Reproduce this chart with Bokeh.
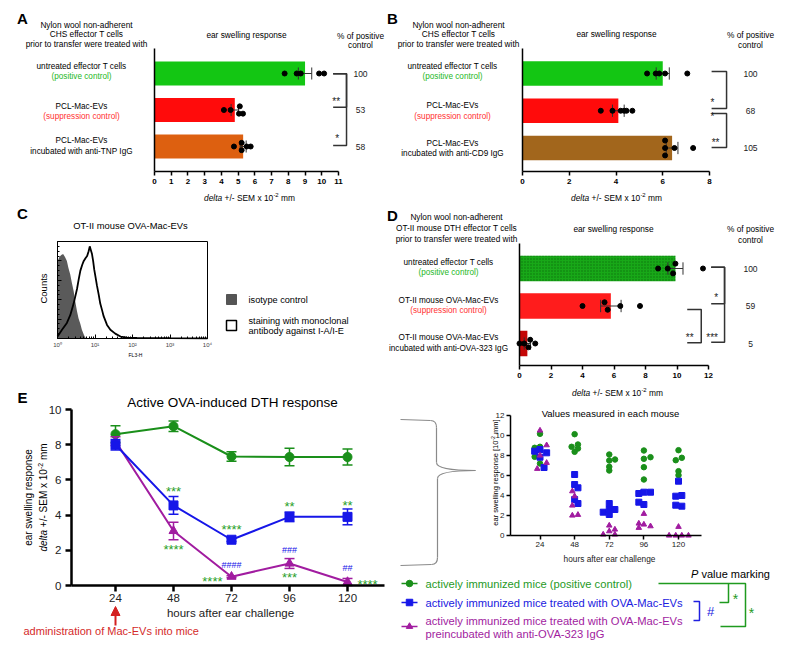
import math
from bokeh.plotting import figure
from bokeh.layouts import row, column
from bokeh.models import Range1d, FixedTicker, Label, Arrow, NormalHead, ColumnDataSource
from bokeh.core.properties import value
from bokeh.embed import file_html
from bokeh.resources import INLINE

FONT = "Liberation Sans"

# ======================= DATA =======================
# Panel A
a_header = ["Nylon wool non-adherent", "CHS effector T cells", "prior to transfer were treated with"]
a_labels = [("untreated effector T cells", "(positive control)"),
            ("PCL-Mac-EVs", "(suppression control)"),
            ("PCL-Mac-EVs", "incubated with anti-TNP IgG")]
a_means = [9.0, 4.8, 5.3]
a_sem = [0.4, 0.22, 0.18]
a_points = [[7.78, 8.5, 8.74, 9.84, 10.14], [4.15, 4.55, 5.1, 5.05, 5.29], [4.75, 5.21, 5.21, 5.51, 5.75]]
a_points_dy = [[0, 0, 0, 0, 0], [0, 0, 0.1, -0.1, -0.1], [0, 0.1, -0.1, 0, 0]]
a_percent = ["100", "53", "58"]
a_ticks = [0, 1, 2, 3, 4, 5, 6, 7, 8, 9, 10, 11]

# Panel B
b_header = ["Nylon wool non-adherent", "CHS effector T cells", "prior to transfer were treated with"]
b_labels = [("untreated effector T cells", "(positive control)"),
            ("PCL-Mac-EVs", "(suppression control)"),
            ("PCL-Mac-EVs", "incubated with anti-CD9 IgG")]
b_means = [6.0, 4.1, 6.4]
b_sem = [0.28, 0.25, 0.25]
b_points = [[5.33, 5.7, 5.85, 6.1, 7.05], [3.35, 3.85, 4.2, 4.35, 4.45, 4.7], [6.1, 6.1, 6.1, 6.5, 7.3]]
b_points_dy = [[0, 0, 0, 0, 0], [0, 0, 0, 0, 0, 0], [0.2, 0, -0.2, 0, 0]]
b_percent = ["100", "68", "105"]
b_ticks = [0, 2, 4, 6, 8]

# Panel C (flow cytometry histogram, x in decades of FL3-H)
c_iso_dec = [0.0, 0.005, 0.05, 0.10, 0.15, 0.20, 0.25, 0.29, 0.34, 0.38, 0.43, 0.47, 0.52, 0.56, 0.61, 0.65, 0.70, 0.74, 0.79, 4.0]
c_iso_cnt = [0.0, 0.80, 0.84, 0.86, 0.87, 0.84, 0.80, 0.73, 0.66, 0.58, 0.49, 0.39, 0.28, 0.21, 0.15, 0.09, 0.04, 0.01, 0.0, 0.0]
c_stain_dec = [0.0, 0.05, 0.12, 0.25, 0.34, 0.43, 0.52, 0.57, 0.61, 0.66, 0.70, 0.75, 0.79, 0.83, 0.86, 0.89, 0.92, 0.95,
               0.98, 1.02, 1.05, 1.10, 1.14, 1.19, 1.23, 1.32, 1.41, 1.54, 1.68, 1.86, 2.12, 3.0, 4.0]
c_stain_cnt = [0.02, 0.05, 0.09, 0.16, 0.24, 0.36, 0.51, 0.62, 0.70, 0.76, 0.80, 0.83, 0.85, 0.90, 0.95, 0.91, 0.87, 0.80,
               0.71, 0.62, 0.55, 0.45, 0.36, 0.29, 0.23, 0.14, 0.09, 0.05, 0.02, 0.01, 0.005, 0.003, 0.002]
c_ticks = [1, 10, 100, 1000, 10000]
c_tick_labels = ["10\u2070", "10\u00b9", "10\u00b2", "10\u00b3", "10\u2074"]

# Panel D
d_header = ["Nylon wool non-adherent", "OT-II mouse DTH effector T cells", "prior to transfer were treated with"]
d_labels = [("untreated effector T cells", "(positive control)"),
            ("OT-II mouse OVA-Mac-EVs", "(suppression control)"),
            ("OT-II mouse OVA-Mac-EVs", "incubated with anti-OVA-323 IgG")]
d_means = [9.9, 5.8, 0.5]
d_sem = [0.48, 0.65, 0.2]
d_points = [[8.8, 9.41, 9.9, 9.75, 11.65], [4.0, 5.4, 5.6, 6.4, 7.65], [0.0, 0.3, 0.57, 0.68, 1.0]]
d_points_dy = [[0, 0, 0.13, -0.13, 0], [0, 0.1, -0.1, 0, 0], [0, 0, -0.1, 0.1, 0]]
d_percent = ["100", "59", "5"]
d_ticks = [0, 2, 4, 6, 8, 10, 12]

# Panel E (means +/- SEM)
e_hours = [24, 48, 72, 96, 120]
e_green = [8.6, 9.05, 7.33, 7.3, 7.3]
e_green_sem = [0.47, 0.3, 0.27, 0.5, 0.45]
e_blue = [8.0, 4.55, 2.6, 3.9, 3.9]
e_blue_sem = [0.3, 0.5, 0.1, 0.27, 0.45]
e_purple = [8.2, 3.1, 0.5, 1.25, 0.2]
e_purple_sem = [0.25, 0.5, 0.06, 0.28, 0.2]
e_yticks = [0, 2, 4, 6, 8, 10]

# Panel E inset: values measured in each mouse (x = hour position of each dot)
m_green_x = [[20.3, 24, 24, 20.3, 24], [48, 45.9, 50.3, 50.3, 48], [72, 72, 76, 72, 72], [96, 96, 100.6, 96, 96], [120, 118.1, 122.3, 120, 120]]
m_green_y = [[8.77, 8.87, 10.17, 7.87, 7.2], [10.13, 8.87, 9.1, 8.7, 8.37], [8.1, 7.5, 7.6, 6.87, 6.5], [8.5, 7.67, 7.83, 6.83, 5.6], [8.53, 7.53, 7.77, 6.43, 6.03]]
m_blue_x = [[20.3, 24, 28.6, 24, 26.8], [48, 48, 50.3, 48, 50.3], [72, 67.8, 72, 75.9, 72], [92.5, 96, 100.6, 92.5, 96], [120, 118.1, 122.3, 118.1, 122.3]]
m_blue_y = [[8.43, 8.6, 8.27, 7.83, 6.8], [6.1, 5.1, 4.77, 3.6, 3.2], [3.2, 2.33, 2.6, 2.6, 2.1], [4.2, 4.33, 4.33, 3.33, 3.1], [5.43, 3.93, 4.0, 3.03, 2.93]]
m_purple_x = [[24, 24, 28.6, 28.6, 22.1], [46.4, 48, 46.4, 46.4, 50.3], [72, 75.9, 72, 67.8, 75.9], [96, 92.5, 96, 100.6, 92.5], [120, 113.5, 118.1, 122.3, 126.9]]
m_purple_y = [[10.5, 8.0, 9.03, 7.27, 6.67], [4.43, 3.93, 3.0, 2.0, 2.07], [1.0, 0.6, 0.43, 0.1, 0.1], [2.17, 1.2, 1.1, 0.93, 0.77], [0.87, 0.0, 0.0, 0.0, 0.0]]
m_yticks = [0, 2, 4, 6, 8, 10, 12]

legend_texts = ["actively immunized mice (positive control)",
                "actively immunized mice treated with OVA-Mac-EVs",
                "actively immunized mice treated with OVA-Mac-EVs",
                "preincubated with anti-OVA-323 IgG"]

# ======================= STYLE / HELPERS =======================
GREEN = "#1a8f1a"
BLUE = "#1616e8"
PURPLE = "#a11ca0"
STAR_GREEN = "#2a9f2a"
LAB_GREEN = "#25b825"
LAB_RED = "#ff3030"

AW = {' ': 278, '!': 278, '"': 355, '#': 556, '%': 889, '&': 667, "'": 191, '(': 333, ')': 333, '*': 389,
      '+': 584, ',': 278, '-': 333, '.': 278, '/': 278, ':': 278, '[': 278, ']': 278}
for ch in "0123456789":
    AW[ch] = 556
AW.update(dict(A=667, B=667, C=722, D=722, E=667, F=611, G=778, H=722, I=278, J=500, K=667, L=556, M=833,
               N=722, O=778, P=667, Q=778, R=722, S=667, T=611, U=722, V=667, W=944, X=667, Y=667, Z=611))
AW.update(dict(a=556, b=556, c=500, d=556, e=556, f=278, g=556, h=556, i=222, j=222, k=500, l=222, m=833,
               n=556, o=556, p=556, q=556, r=333, s=500, t=278, u=556, v=500, w=722, x=500, y=500, z=500))


def tw(s, size):
    return sum(AW.get(ch, 556) for ch in s) / 1000.0 * size


class Geo:
    """Figure occupying page box (x0,y0,w,h); its frame is the whole figure.
    x: data value vx sits at page px with scale sx (px per unit); same for y (page y grows downward)."""
    def __init__(self, x0, y0, w, h, px, vx, sx, py, vy, sy, xlog=False):
        self.x0, self.y0, self.w, self.h = x0, y0, w, h
        self.px, self.vx, self.sx, self.py, self.vy, self.sy = px, vx, sx, py, vy, sy
        self.xlog = xlog
        self.xr = (self.dx(x0), self.dx(x0 + w))
        self.yr = (self.dy(y0 + h), self.dy(y0))

    def dx(self, X):
        v = self.vx + (X - self.px) / self.sx
        return 10 ** v if self.xlog else v

    def dy(self, Y):
        return self.vy + (self.py - Y) / self.sy

    def d(self, X, Y):
        return self.dx(X), self.dy(Y)


def make_fig(g, x_axis_type="linear"):
    p = figure(width=g.w, height=g.h, x_range=Range1d(start=g.xr[0], end=g.xr[1]),
               y_range=Range1d(start=g.yr[0], end=g.yr[1]), x_axis_type=x_axis_type,
               output_backend="svg", toolbar_location=None, title=None, tools="",
               min_border_left=0, min_border_right=0, min_border_top=0, min_border_bottom=0)
    p.outline_line_color = None
    p.grid.visible = False
    p.background_fill_color = "white"
    p.border_fill_color = "white"
    return p


def label(p, g, X, Y, text, size, color="black", align="center", style="normal", angle=0.0):
    x, y = g.d(X, Y)
    p.add_layout(Label(x=x, y=y, text=text, text_font=FONT, text_font_size=f"{size:.1f}px",
                       text_color=color, text_align=align, text_baseline="middle",
                       text_font_style=style, angle=angle))


def pieces(p, g, X, Y, parts, size, color="black", vertical=False):
    total = sum(tw(t, size * sc) for t, st, sc, r in parts)
    pos = (X - total / 2) if not vertical else (Y + total / 2)
    for t, st, sc, r in parts:
        fs = size * sc
        lead = len(t) - len(t.lstrip(' '))
        trail = len(t) - len(t.rstrip(' '))
        core = t.strip(' ')
        if not vertical:
            pos += tw(' ' * lead, fs)
            label(p, g, pos, Y - r, core, fs, color, align="left", style=st)
            pos += tw(core, fs) + tw(' ' * trail, fs)
        else:
            pos -= tw(' ' * lead, fs)
            label(p, g, X - r, pos, core, fs, color, align="left", style=st, angle=math.pi / 2)
            pos -= tw(core, fs) + tw(' ' * trail, fs)


def page_line(p, g, Xs, Ys, **kw):
    p.line([g.dx(X) for X in Xs], [g.dy(Y) for Y in Ys], **kw)


DELTA_PARTS = [("delta", "italic", 1.0, 0), (" +/- SEM x 10", "normal", 1.0, 0), ("-2", "normal", 0.7, 3), (" mm", "normal", 1.0, 0)]


def style_axis(ax, lw, tick_out, size, fixed, bounds, ticks, bold=False, color="black", standoff=3):
    ax.fixed_location = fixed
    ax.bounds = bounds
    ax.ticker = FixedTicker(ticks=ticks)
    ax.axis_line_width = lw
    ax.major_tick_line_width = lw
    ax.major_tick_out = tick_out
    ax.major_tick_in = 0
    ax.minor_tick_line_color = None
    ax.major_label_text_font = FONT
    ax.major_label_text_font_size = size
    ax.major_label_text_font_style = "bold" if bold else "normal"
    ax.major_label_text_color = color
    ax.major_label_standoff = standoff


def bar_panel(g, means, sems, points, points_dy, colors, ticks, bar_h, cap_h, labels, header, percent,
              pct_x, brackets, stars, pos, ybounds, hatch=None):
    p = make_fig(g)
    ys = [3, 2, 1]
    src = ColumnDataSource(dict(y=ys, right=means, color=colors))
    if hatch is None:
        p.hbar(y="y", right="right", left=0, height=bar_h, fill_color="color", line_color=None, source=src)
    else:
        src.data["hatch"] = hatch
        p.hbar(y="y", right="right", left=0, height=bar_h, fill_color="color", line_color=None,
               hatch_pattern="hatch", hatch_color="#0a5c0a", hatch_scale=3.0, hatch_weight=1.0,
               hatch_alpha=0.7, source=src)
    lo = [m - s for m, s in zip(means, sems)]
    hi = [m + s for m, s in zip(means, sems)]
    p.segment(x0=lo, y0=ys, x1=hi, y1=ys, line_color="#333333", line_width=1)
    p.segment(x0=lo, y0=[y - cap_h / 2 for y in ys], x1=lo, y1=[y + cap_h / 2 for y in ys], line_color="#333333", line_width=1)
    p.segment(x0=hi, y0=[y - cap_h / 2 for y in ys], x1=hi, y1=[y + cap_h / 2 for y in ys], line_color="#333333", line_width=1)
    px = [v for grp in points for v in grp]
    py = [ys[i] + dy for i, grp in enumerate(points_dy) for dy in grp]
    p.scatter(px, py, size=5, fill_color="black", line_color="black")
    for x0, x1, yt, yb in brackets:
        p.line([x0, x1, x1, x0], [yt, yt, yb, yb], line_color="#333333", line_width=1.5)
    p.text(x=[s[0] for s in stars], y=[s[1] for s in stars], text=[s[2] for s in stars],
           text_font=value(FONT), text_font_size="10px", text_align="center", text_baseline="middle",
           text_color="#222222")
    p.text(x=[pct_x] * 3, y=ys, text=percent, text_font=value(FONT), text_font_size="8.5px",
           text_align="center", text_baseline="middle", text_color="#222222")
    style_axis(p.xaxis[0], 1.5, 4, "8px", ybounds[0], (0, ticks[-1]), ticks, bold=True, standoff=3)
    style_axis(p.yaxis[0], 1.5, 0, "8px", 0, ybounds, [])
    lt, lx, ly = pos["letter"]
    label(p, g, lx, ly, lt, 15, style="bold")
    for txt, hy in zip(header, pos["header_y"]):
        label(p, g, pos["header_cx"], hy, txt, 8.3)
    label(p, g, pos["resp"][0], pos["resp"][1], "ear swelling response", 8.3)
    label(p, g, pos["pct"][0], pos["pct"][1], "% of positive", 8.3)
    label(p, g, pos["pct"][0], pos["pct"][2], "control", 8.3)
    c2 = [LAB_GREEN, LAB_RED, "black"]
    for (l1, l2), (y1, y2), col in zip(labels, pos["lab_y"], c2):
        label(p, g, pos["lab_cx"], y1, l1, 8.2)
        label(p, g, pos["lab_cx"], y2, l2, 8.2, color=col)
    pieces(p, g, pos["xlab"][0], pos["xlab"][1], DELTA_PARTS, 8.4)
    return p


# ---------------- Panel A ----------------
gA = Geo(0, 0, 386, 203, px=154, vx=0, sx=(338 - 154) / 11.0, py=73, vy=3, sy=36.5)
pA = bar_panel(gA, a_means, a_sem, a_points, a_points_dy, ["#13c613", "#ff0b0b", "#dd6010"], a_ticks, 0.66, 0.33,
               a_labels, a_header, a_percent, gA.dx(360),
               brackets=[(10.68, 11.48, 2.992, 2.077), (10.68, 11.48, 2.992, 1.027)],
               stars=[(10.86, 2.225, "**"), (10.92, 1.219, "*")],
               pos=dict(letter=("A", 22, 18), header_cx=86, header_y=[24, 33.5, 43], resp=(246, 34),
                        pct=(360, 35, 44.5), lab_cx=81, lab_y=[(66, 76), (106, 116), (140, 151)], xlab=(249, 197)),
               ybounds=(gA.dy(171), gA.dy(48)))

# ---------------- Panel B ----------------
gB = Geo(386, 0, 400, 203, px=522, vx=0, sx=(709 - 522) / 8.0, py=73, vy=3, sy=37.25)
pB = bar_panel(gB, b_means, b_sem, b_points, b_points_dy, ["#13c613", "#ff0b0b", "#a2661c"], b_ticks, 0.66, 0.33,
               b_labels, b_header, b_percent, gB.dx(750),
               brackets=[(8.09, 8.73, 3.054, 2.06), (8.09, 8.73, 1.926, 1.013)],
               stars=[(8.13, 2.221, "*"), (8.13, 1.846, "*"), (8.26, 1.148, "**")],
               pos=dict(letter=("B", 392, 18), header_cx=458, header_y=[24, 33, 43], resp=(616, 33),
                        pct=(750, 34, 44), lab_cx=452, lab_y=[(66, 76), (105, 116), (143, 153)], xlab=(616, 197)),
               ybounds=(gB.dy(171), gB.dy(48)))

# ---------------- Panel D ----------------
gD = Geo(385, 203, 401, 194, px=519, vx=0, sx=(708 - 519) / 12.0, py=268, vy=3, sy=37.5)
pD = bar_panel(gD, d_means, d_sem, d_points, d_points_dy, ["#18a818", "#ff1c1c", "#c40606"], d_ticks, 0.68, 0.33,
               d_labels, d_header, d_percent, gD.dx(750),
               brackets=[(12.17, 13.02, 3.035, 2.059), (12.17, 13.02, 3.035, 1.035), (10.65, 11.54, 1.907, 1.019)],
               stars=[(12.49, 2.227, "*"), (12.23, 1.16, "***"), (10.81, 1.16, "**")],
               pos=dict(letter=("D", 392, 215), header_cx=456, header_y=[216, 227, 238], resp=(613, 228),
                        pct=(750, 228, 239), lab_cx=448, lab_y=[(262, 272), (300, 310), (337, 348)],
                        xlab=(617, 392)),
               ybounds=(gD.dy(365), gD.dy(243)), hatch=["dot", " ", " "])

# ---------------- Panel C ----------------
gC = Geo(0, 203, 385, 185, px=57, vx=0, sx=37.5, py=338, vy=0, sy=97, xlog=True)
pC = make_fig(gC, x_axis_type="log")
iso_x = [10 ** v for v in c_iso_dec]
st_x = [10 ** v for v in c_stain_dec]
pC.varea(x=iso_x, y1=[0] * len(iso_x), y2=c_iso_cnt, fill_color="#5a5a5a")
pC.line(st_x, c_stain_cnt, line_color="black", line_width=1.8)
pC.line([1, 10000, 10000], [1, 1, 0], line_color="black", line_width=1)
xa = pC.xaxis[0]
xa.fixed_location = 0
xa.bounds = (1, 10000)
minor = [m * 10 ** k for k in range(4) for m in range(2, 10)]
xa.ticker = FixedTicker(ticks=c_ticks, minor_ticks=minor)
xa.major_label_overrides = {t: s for t, s in zip(c_ticks, c_tick_labels)}
xa.axis_line_width = 1
xa.major_tick_in = 4
xa.major_tick_out = 0
xa.minor_tick_in = 2
xa.minor_tick_out = 0
xa.major_label_text_font = FONT
xa.major_label_text_font_size = "6px"
xa.major_label_text_color = "#444444"
xa.major_label_standoff = 3
ya = pC.yaxis[0]
ya.fixed_location = 1
ya.bounds = (0, 1)
ya.ticker = FixedTicker(ticks=[0, 0.2, 0.4, 0.6, 0.8, 1.0], minor_ticks=[i / 20 for i in range(21)])
ya.axis_line_width = 1
ya.major_tick_in = 4
ya.major_tick_out = 0
ya.minor_tick_in = 2
ya.minor_tick_out = 0
ya.major_label_text_color = None
label(pC, gC, 22, 213, "C", 15, style="bold")
label(pC, gC, 130, 225, "OT-II mouse OVA-Mac-EVs", 9.4)
label(pC, gC, 43, 288, "Counts", 9.5, angle=math.pi / 2)
label(pC, gC, 135, 354, "FL3-H", 5)
pC.scatter([gC.dx(231)], [gC.dy(299)], marker="square", size=10, fill_color="#555555", line_color="#555555")
pC.scatter([gC.dx(231)], [gC.dy(325)], marker="square", size=10, fill_color="white", line_color="black", line_width=1.5)
label(pC, gC, 248, 299, "isotype control", 9.2, align="left")
label(pC, gC, 248, 320, "staining with monoclonal", 9.2, align="left")
label(pC, gC, 248, 330, "antibody against I-A/I-E", 9.2, align="left")

# ---------------- Panel E (left) ----------------
gE = Geo(0, 388, 385, 261, px=115, vx=24, sx=(347 - 115) / 96.0, py=585, vy=0, sy=(585 - 409) / 10.0)
pE = make_fig(gE)
capw = 5 / gE.sx
for vals, sem, col, mk, sz in [(e_green, e_green_sem, GREEN, "circle", 9),
                               (e_purple, e_purple_sem, PURPLE, "triangle", 9),
                               (e_blue, e_blue_sem, BLUE, "square", 9)]:
    lo = [v - s for v, s in zip(vals, sem)]
    hi = [v + s for v, s in zip(vals, sem)]
    pE.line(e_hours, vals, line_color=col, line_width=2)
    pE.segment(x0=e_hours, y0=lo, x1=e_hours, y1=hi, line_color=col, line_width=1.5)
    pE.segment(x0=[h - capw for h in e_hours], y0=lo, x1=[h + capw for h in e_hours], y1=lo, line_color=col, line_width=1.5)
    pE.segment(x0=[h - capw for h in e_hours], y0=hi, x1=[h + capw for h in e_hours], y1=hi, line_color=col, line_width=1.5)
    pE.scatter(e_hours, vals, marker=mk, size=sz, fill_color=col, line_color=col)

e_marks = [(48, 5.34, "***"), (72, 3.18, "****"), (96, 4.49, "**"), (120, 4.55, "**"), (48, 2.05, "****"),
           (64.1, 0.23, "****"), (96, 0.45, "***"), (128.3, 0.06, "****")]
e_hash = [(72, 1.19, "####"), (96, 1.99, "###"), (120, 1.02, "##")]
pE.text(x=[m[0] for m in e_marks], y=[m[1] for m in e_marks], text=[m[2] for m in e_marks],
        text_color=STAR_GREEN, text_font=value(FONT), text_font_size="13px", text_align="center",
        text_baseline="middle")
pE.text(x=[m[0] for m in e_hash], y=[m[1] for m in e_hash], text=[m[2] for m in e_hash],
        text_color=BLUE, text_font=value(FONT), text_font_size="9px", text_align="center",
        text_baseline="middle")
style_axis(pE.xaxis[0], 2.5, 6, "11.5px", 0, (gE.dx(71), gE.dx(384)), e_hours, color="#222222", standoff=2)
style_axis(pE.yaxis[0], 2.5, 6, "11.5px", gE.dx(71), (0, 10), e_yticks, color="#222222", standoff=4)
label(pE, gE, 22, 397, "E", 15, style="bold")
label(pE, gE, 232, 402, "Active OVA-induced DTH response", 13.5)
label(pE, gE, 230, 612, "hours after ear challenge", 11.5, color="#222222")
label(pE, gE, 28, 497, "ear swelling response", 10, angle=math.pi / 2)
pieces(pE, gE, 43, 497, [("delta", "italic", 1.0, 0), (" +/- SEM x 10", "normal", 1.0, 0),
                         ("-2", "normal", 0.7, 3.5), (" mm", "normal", 1.0, 0)], 10, vertical=True)
pE.add_layout(Arrow(end=NormalHead(size=9, fill_color="#d42020", line_color="#d42020"),
                    x_start=24, y_start=gE.dy(625), x_end=24, y_end=gE.dy(606), line_color="#d42020", line_width=2))
label(pE, gE, 23, 630, "administration of Mac-EVs into mice", 11, color="#d42a2a", align="left")

# ---------------- Panel E (right): brace, inset, legend ----------------
gR = Geo(385, 397, 401, 252, px=539.5, vx=24, sx=(678 - 539.5) / 96.0, py=535, vy=0, sy=10.0)
pR = make_fig(gR)
BR = "#8a8a8a"
page_line(pR, gR, [400, 430], [419, 420], line_color=BR, line_width=1.2)
page_line(pR, gR, [436, 436], [427, 462], line_color=BR, line_width=1.2)
page_line(pR, gR, [437, 437], [478, 557], line_color=BR, line_width=1.2)
page_line(pR, gR, [431, 400], [564, 565], line_color=BR, line_width=1.2)
q = [(430, 420, 436, 427, 436, 420), (436, 462, 475, 470, 436, 470), (475, 470, 437, 478, 437, 470), (437, 557, 431, 564, 437, 564)]
pR.quadratic(x0=[gR.dx(a[0]) for a in q], y0=[gR.dy(a[1]) for a in q], x1=[gR.dx(a[2]) for a in q],
             y1=[gR.dy(a[3]) for a in q], cx=[gR.dx(a[4]) for a in q], cy=[gR.dy(a[5]) for a in q],
             line_color=BR, line_width=1.2)

flat = lambda L: [v for grp in L for v in grp]
pR.scatter(flat(m_green_x), flat(m_green_y), marker="circle", size=5.5, fill_color=GREEN, line_color=GREEN)
pR.scatter(flat(m_blue_x), flat(m_blue_y), marker="square", size=6, fill_color=BLUE, line_color=BLUE)
pR.scatter(flat(m_purple_x), flat(m_purple_y), marker="triangle", size=5.5, fill_color=PURPLE, line_color=PURPLE)
style_axis(pR.xaxis[0], 1.5, 4, "8px", 0, (gR.dx(510), gR.dx(701)), e_hours, color="#222222", standoff=2)
style_axis(pR.yaxis[0], 1.5, 4, "8px", gR.dx(510), (0, 12), m_yticks, color="#222222", standoff=2)
label(pR, gR, 610, 413, "Values measured in each mouse", 9.5)
label(pR, gR, 609, 558, "hours after ear challenge", 8.3, color="#222222")
pieces(pR, gR, 495, 472, [("ear swelling response [10", "normal", 1.0, 0), ("-2", "normal", 0.7, 2.5),
                          (" mm]", "normal", 1.0, 0)], 7.5, vertical=True)

# legend of E
for yy, col, mk in [(583, GREEN, "circle"), (602, BLUE, "square"), (626, PURPLE, "triangle")]:
    page_line(pR, gR, [401, 417], [yy, yy], line_color=col, line_width=1.5)
    pR.scatter([gR.dx(409)], [gR.dy(yy)], marker=mk, size=6.5, fill_color=col, line_color=col)
for txt, yy, col in zip(legend_texts, [583, 602, 620, 633], ["#1f9a1f", "#2020e0", PURPLE, PURPLE]):
    label(pR, gR, 425, yy, txt, 11.2, color=col, align="left")
pieces(pR, gR, 730, 573, [("P", "italic", 1.0, 0), (" value marking", "normal", 1.0, 0)], 11)
page_line(pR, gR, [658, 745, 745, 720], [583, 583, 626, 626], line_color="#1f9a1f", line_width=1.5)
page_line(pR, gR, [728, 728, 719], [583, 602, 602], line_color="#1f9a1f", line_width=1.5)
page_line(pR, gR, [693, 699, 699, 693], [601, 601, 620, 620], line_color="#2020e0", line_width=1.5)
label(pR, gR, 735, 598, "*", 14, color="#1f9a1f")
label(pR, gR, 751, 612, "*", 14, color="#1f9a1f")
label(pR, gR, 710, 611, "#", 13, color="#2020e0")

# ---------------- layout ----------------
left_col = column(pC, pE, spacing=0)
right_col = column(pD, pR, spacing=0)
layout = column(row(pA, pB, spacing=0), row(left_col, right_col, spacing=0), spacing=0)

open("out.html", "w").write(file_html(layout, INLINE, title="Mac-EVs figure"))
